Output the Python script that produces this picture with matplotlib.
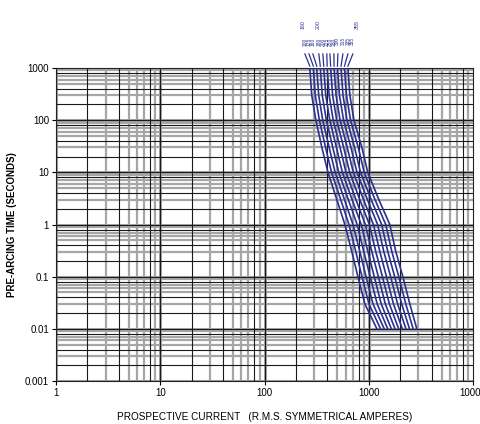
import matplotlib
matplotlib.use("Agg")
import matplotlib.pyplot as plt
import matplotlib.transforms as mtransforms
from matplotlib.ticker import FixedLocator, FixedFormatter, NullLocator

plt.rcParams['font.family'] = ['Liberation Sans', 'DejaVu Sans']

# Pre-arcing times (s) at which currents were read
times = [1000, 300, 100, 30, 10, 3, 1, 0.3, 0.1, 0.03, 0.01]

# Prospective current (A) for each fuse curve (left to right)
curve_01 = [272, 284, 311, 355, 406, 494, 590, 689, 787, 918, 1197]
curve_02 = [294, 307, 336, 385, 440, 538, 646, 752, 861, 1005, 1297]
curve_03 = [317, 331, 362, 417, 476, 585, 706, 822, 942, 1099, 1406]
curve_04 = [343, 358, 392, 452, 515, 637, 774, 897, 1033, 1205, 1521]
curve_05 = [370, 387, 423, 490, 558, 692, 847, 982, 1130, 1318, 1648]
curve_06 = [399, 417, 456, 531, 605, 753, 927, 1072, 1236, 1442, 1786]
curve_07 = [431, 450, 493, 574, 656, 820, 1014, 1169, 1352, 1578, 1936]
curve_08 = [465, 486, 531, 622, 711, 891, 1109, 1279, 1479, 1726, 2099]
curve_09 = [501, 524, 573, 675, 771, 971, 1216, 1396, 1622, 1892, 2275]
curve_10 = [542, 566, 619, 731, 834, 1054, 1330, 1524, 1774, 2070, 2460]
curve_11 = [585, 611, 669, 793, 904, 1148, 1455, 1667, 1941, 2265, 2667]
curve_12 = [631, 659, 721, 859, 979, 1250, 1592, 1820, 2123, 2477, 2891]
curves = [curve_01, curve_02, curve_03, curve_04, curve_05, curve_06,
          curve_07, curve_08, curve_09, curve_10, curve_11, curve_12]

# Curve labels
labels_low = ["100", "125", "160", "180", "200", "225", "250", "280", "300", "315", "335", "355"]
labels_high = ["160", "200", "355"]

x_ticks = [1, 10, 100, 1000, 10000]
x_ticklabels = ["1", "10", "100", "1000", "10000"]
y_ticks = [0.001, 0.01, 0.1, 1, 10, 100, 1000]
y_ticklabels = ["0.001", "0.01", "0.1", "1", "10", "100", "1000"]

# label anchor positions (current) for the rating labels
low_label_x = [244, 267, 291, 332, 363, 396, 424, 463, 505, 565, 631, 704]
high_label_x = [232, 324, 769]

fig = plt.figure(figsize=(4.8, 4.24), dpi=100)
ax = fig.add_axes([0.1167, 0.1014, 0.8687, 0.7382])
ax.set_xscale('log')
ax.set_yscale('log')
ax.set_xlim(1, 10000)
ax.set_ylim(0.001, 1000)

ax.xaxis.set_major_locator(FixedLocator(x_ticks))
ax.xaxis.set_major_formatter(FixedFormatter(x_ticklabels))
ax.yaxis.set_major_locator(FixedLocator(y_ticks))
ax.yaxis.set_major_formatter(FixedFormatter(y_ticklabels))
ax.xaxis.set_minor_locator(NullLocator())
ax.yaxis.set_minor_locator(NullLocator())
ax.tick_params(which='major', direction='out', length=3, width=0.8,
               labelsize=7, pad=2)

# grid: grey bands and black lines
grey = '#a6a6a6'
black_subs = [2, 4, 8]
grey_subs = [3, 5, 6, 7, 9]
for dec in [1, 10, 100, 1000]:
    ax.axvline(dec, color=grey, lw=2.2, zorder=0.5)
    ax.axvline(dec, color='#1a1a1a', lw=0.8, zorder=0.6)
    for s in grey_subs:
        ax.axvline(dec * s, color=grey, lw=1.6, zorder=0.5)
    for s in black_subs:
        ax.axvline(dec * s, color='#1a1a1a', lw=0.8, zorder=0.6)
for dec in [0.001, 0.01, 0.1, 1, 10, 100]:
    ax.axhline(dec, color=grey, lw=2.2, zorder=0.5)
    ax.axhline(dec, color='#1a1a1a', lw=0.8, zorder=0.6)
    for s in grey_subs:
        ax.axhline(dec * s, color=grey, lw=1.6, zorder=0.5)
    for s in black_subs:
        ax.axhline(dec * s, color='#1a1a1a', lw=0.8, zorder=0.6)
ax.axhline(1000, color=grey, lw=2.2, zorder=0.5)

for s in ax.spines.values():
    s.set_color('#222222')
    s.set_linewidth(0.8)

for c in curves:
    ax.plot(c, times, color='#2b318f', lw=1.2, zorder=3)

trans = mtransforms.blended_transform_factory(ax.transData, ax.transAxes)
for lx, c in zip(low_label_x, curves):
    ax.plot([lx, c[0]], [1.045, 1.006], transform=trans, color='#2b318f',
            lw=0.9, clip_on=False)
for lx, lab in zip(low_label_x, labels_low):
    ax.text(lx, 1.085, lab, transform=trans, rotation=90, ha='center',
            va='center', fontsize=3.5, color='#2b318f', clip_on=False)
for lx, lab in zip(high_label_x, labels_high):
    ax.text(lx, 1.14, lab, transform=trans, rotation=90, ha='center',
            va='center', fontsize=3.8, color='#2b318f', clip_on=False)

ax.set_ylabel("PRE-ARCING TIME (SECONDS)", fontsize=7, fontweight='bold', labelpad=6)
ax.set_xlabel("PROSPECTIVE CURRENT   (R.M.S. SYMMETRICAL AMPERES)", fontsize=7.2,
              labelpad=10)

fig.savefig("out.png", dpi=100)
